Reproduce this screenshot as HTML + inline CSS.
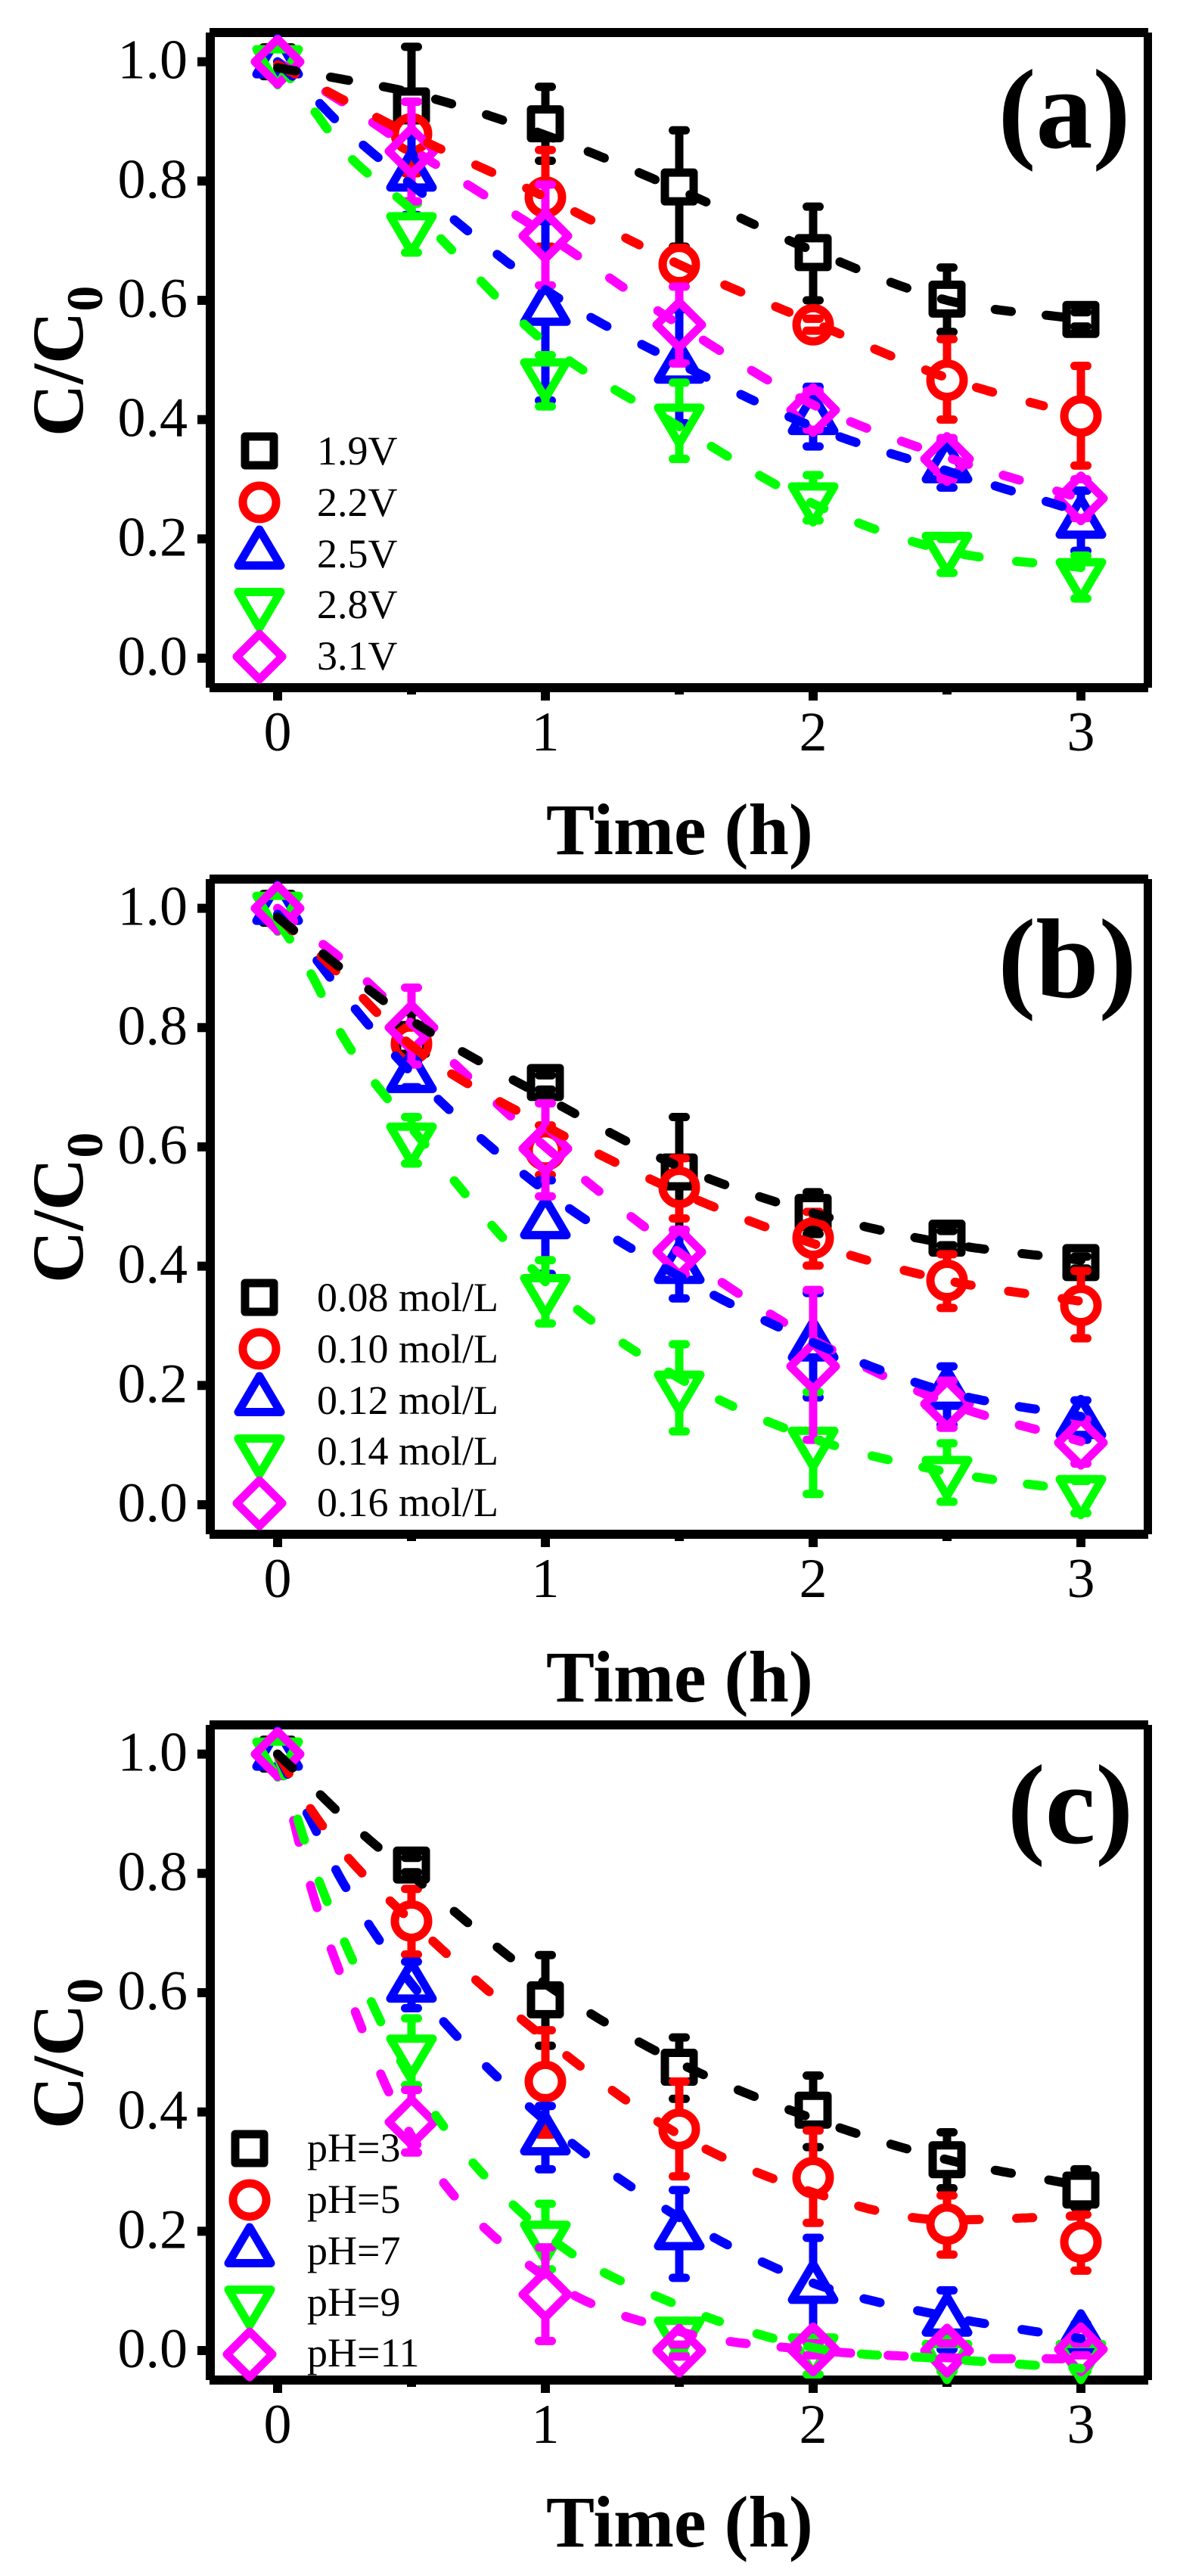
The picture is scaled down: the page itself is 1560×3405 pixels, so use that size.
<!DOCTYPE html>
<html lang="en">
<head>
<meta charset="utf-8">
<title>C/C0 versus time</title>
<style>
html,body{margin:0;padding:0;background:#fff;}
svg{display:block;}
text{font-family:"Liberation Serif",serif;fill:#000;}
.title{font-weight:bold;font-size:96px;}
.panel-tag{font-weight:bold;font-size:150px;text-anchor:middle;}
.tick{font-size:74px;}
.leg{font-size:54px;}
</style>
</head>
<body>
<svg id="figure" xmlns="http://www.w3.org/2000/svg" width="1560" height="3405" viewBox="0 0 1560 3405">
  <rect x="0" y="0" width="1560" height="3405" fill="#fff"/>

  <g id="panel-a">
    <text class="title" x="722" y="1129">Time (h)</text>
    <text class="title" transform="translate(109,577) rotate(-90)">C/C<tspan font-size="68" dy="26">0</tspan></text>
    <text class="panel-tag" x="1407" y="195">(a)</text>
    <text class="leg" x="419" y="614">1.9V</text>
    <text class="leg" x="419" y="682">2.2V</text>
    <text class="leg" x="419" y="750">2.5V</text>
    <text class="leg" x="419" y="817">2.8V</text>
    <text class="leg" x="419" y="885">3.1V</text>
  </g>

  <g id="panel-b">
    <text class="title" x="722" y="2249">Time (h)</text>
    <text class="title" transform="translate(109,1696) rotate(-90)">C/C<tspan font-size="68" dy="26">0</tspan></text>
    <text class="panel-tag" x="1411" y="1318">(b)</text>
    <text class="leg" x="419" y="1733">0.08 mol/L</text>
    <text class="leg" x="419" y="1801">0.10 mol/L</text>
    <text class="leg" x="419" y="1869">0.12 mol/L</text>
    <text class="leg" x="419" y="1936">0.14 mol/L</text>
    <text class="leg" x="419" y="2004">0.16 mol/L</text>
  </g>

  <g id="panel-c">
    <text class="title" x="722" y="3366">Time (h)</text>
    <text class="title" transform="translate(109,2814) rotate(-90)">C/C<tspan font-size="68" dy="26">0</tspan></text>
    <text class="panel-tag" x="1415" y="2436">(c)</text>
    <text class="leg" x="406" y="2857">pH=3</text>
    <text class="leg" x="406" y="2925">pH=5</text>
    <text class="leg" x="406" y="2993">pH=7</text>
    <text class="leg" x="406" y="3061">pH=9</text>
    <text class="leg" x="406" y="3128">pH=11</text>
  </g>
</svg>

<script>
/* Shared axes */
const timeValues = [0, 0.5, 1, 1.5, 2, 2.5, 3];
const fitTimes = [0, 0.125, 0.25, 0.5, 1, 1.5, 2, 2.5, 3];
const xTickLabels = ['0', '1', '2', '3'];
const xMajorTicks = [0, 1, 2, 3];
const xMinorTicks = [0.5, 1.5, 2.5];
const yTickLabels = ['0.0', '0.2', '0.4', '0.6', '0.8', '1.0'];
const yTicks = [0, 0.2, 0.4, 0.6, 0.8, 1.0];

/* Panel (a) */
const a19Values = [1, 0.926, 0.896, 0.79, 0.68, 0.602, 0.568];
const a19Upper = [1, 1.025, 0.958, 0.885, 0.757, 0.655, 0.58];
const a19Lower = [1, 0.82, 0.834, 0.69, 0.60, 0.547, 0.556];
const a19Fit = [0.99, 0.98, 0.97, 0.948, 0.877, 0.785, 0.683, 0.60, 0.568];
const a22Values = [1, 0.879, 0.773, 0.66, 0.559, 0.466, 0.406];
const a22Upper = [1, 0.933, 0.852, 0.688, 0.569, 0.535, 0.49];
const a22Lower = [1, 0.813, 0.69, 0.632, 0.549, 0.40, 0.323];
const a22Fit = [0.995, 0.965, 0.935, 0.877, 0.773, 0.66, 0.563, 0.47, 0.406];
const a25Values = [1, 0.81, 0.585, 0.488, 0.402, 0.321, 0.228];
const a25Upper = [1, 0.877, 0.733, 0.585, 0.455, 0.365, 0.281];
const a25Lower = [1, 0.743, 0.432, 0.394, 0.355, 0.286, 0.18];
const a25Fit = [1, 0.945, 0.888, 0.794, 0.618, 0.494, 0.388, 0.314, 0.245];
const a28Values = [1, 0.72, 0.475, 0.399, 0.267, 0.184, 0.14];
const a28Upper = [1, 0.762, 0.508, 0.462, 0.307, 0.20, 0.172];
const a28Lower = [1, 0.68, 0.422, 0.334, 0.231, 0.143, 0.10];
const a28Fit = [1, 0.925, 0.85, 0.752, 0.529, 0.388, 0.259, 0.18, 0.152];
const a31Values = [1, 0.85, 0.708, 0.559, 0.416, 0.334, 0.268];
const a31Upper = [1, 0.933, 0.794, 0.623, 0.448, 0.369, 0.30];
const a31Lower = [1, 0.766, 0.625, 0.494, 0.383, 0.30, 0.235];
const a31Fit = [1, 0.965, 0.93, 0.854, 0.711, 0.559, 0.425, 0.337, 0.268];

/* Panel (b) */
const b08Values = [1, 0.78, 0.708, 0.558, 0.49, 0.447, 0.406];
const b08Upper = [1, 0.826, 0.72, 0.65, 0.524, 0.459, 0.416];
const b08Lower = [1, 0.747, 0.696, 0.452, 0.454, 0.435, 0.396];
const b08Fit = [0.985, 0.94, 0.895, 0.812, 0.683, 0.567, 0.489, 0.438, 0.41];
const b10Values = [1, 0.773, 0.595, 0.532, 0.447, 0.376, 0.334];
const b10Upper = [1, 0.80, 0.636, 0.581, 0.491, 0.42, 0.392];
const b10Lower = [1, 0.743, 0.553, 0.48, 0.401, 0.33, 0.279];
const b10Fit = [0.985, 0.935, 0.881, 0.77, 0.635, 0.524, 0.438, 0.376, 0.341];
const b12Values = [1, 0.718, 0.473, 0.398, 0.268, 0.187, 0.138];
const b12Upper = [1, 0.743, 0.544, 0.452, 0.355, 0.232, 0.175];
const b12Lower = [1, 0.70, 0.387, 0.346, 0.18, 0.134, 0.109];
const b12Fit = [0.99, 0.925, 0.853, 0.724, 0.526, 0.383, 0.272, 0.189, 0.148];
const b14Values = [1, 0.613, 0.359, 0.197, 0.103, 0.054, 0.022];
const b14Upper = [1, 0.65, 0.41, 0.269, 0.189, 0.103, 0.04];
const b14Lower = [1, 0.572, 0.304, 0.123, 0.018, 0.005, -0.014];
const b14Fit = [0.98, 0.89, 0.78, 0.632, 0.374, 0.212, 0.111, 0.055, 0.023];
const b16Values = [1, 0.80, 0.597, 0.424, 0.232, 0.169, 0.104];
const b16Upper = [1, 0.867, 0.673, 0.461, 0.36, 0.208, 0.143];
const b16Lower = [1, 0.738, 0.517, 0.387, 0.109, 0.129, 0.069];
const b16Fit = [1, 0.955, 0.911, 0.807, 0.60, 0.423, 0.277, 0.171, 0.106];

/* Panel (c) */
const c3Values = [1, 0.814, 0.588, 0.475, 0.403, 0.32, 0.269];
const c3Upper = [1, 0.826, 0.663, 0.525, 0.461, 0.366, 0.304];
const c3Lower = [1, 0.802, 0.511, 0.422, 0.341, 0.272, 0.24];
const c3Fit = [1, 0.947, 0.893, 0.797, 0.615, 0.482, 0.389, 0.32, 0.276];
const c5Values = [1, 0.72, 0.451, 0.371, 0.29, 0.212, 0.182];
const c5Upper = [1, 0.774, 0.537, 0.451, 0.369, 0.26, 0.228];
const c5Lower = [1, 0.664, 0.362, 0.292, 0.214, 0.161, 0.134];
const c5Fit = [1, 0.907, 0.833, 0.72, 0.523, 0.362, 0.265, 0.219, 0.226];
const c7Values = [1, 0.611, 0.355, 0.196, 0.106, 0.051, 0.023];
const c7Upper = [1, 0.652, 0.41, 0.269, 0.189, 0.101, 0.045];
const c7Lower = [1, 0.574, 0.304, 0.122, 0.02, 0.002, 0];
const c7Fit = [1, 0.888, 0.78, 0.615, 0.385, 0.223, 0.113, 0.057, 0.02];
const c9Values = [1, 0.502, 0.19, 0.029, 0.001, -0.01, -0.01];
const c9Upper = [1, 0.557, 0.246, 0.05, 0.015, 0.02, 0.015];
const c9Lower = [1, 0.445, 0.136, -0.007, -0.04, -0.035, -0.035];
const c9Fit = [1, 0.823, 0.685, 0.455, 0.196, 0.075, 0.005, -0.014, -0.03];
const c11Values = [1, 0.383, 0.094, 0, 0.002, 0, 0.002];
const c11Upper = [1, 0.437, 0.173, 0.01, 0.012, 0.012, 0.012];
const c11Lower = [1, 0.332, 0.016, -0.01, -0.008, -0.012, -0.008];
const c11Fit = [1, 0.776, 0.614, 0.36, 0.123, 0.032, 0.001, -0.012, -0.014];

const seriesStyles = [
  {shape: 'square', color: '#000000'},
  {shape: 'circle', color: '#ff0000'},
  {shape: 'triUp', color: '#0000ff'},
  {shape: 'triDown', color: '#00ff00'},
  {shape: 'diamond', color: '#ff00ff'}
];

const panels = [
  {id: 'a', offset: 0, legendX: 343, legendShift: 0, series: [
    {key: '1-9v', values: a19Values, upper: a19Upper, lower: a19Lower, fit: a19Fit},
    {key: '2-2v', values: a22Values, upper: a22Upper, lower: a22Lower, fit: a22Fit},
    {key: '2-5v', values: a25Values, upper: a25Upper, lower: a25Lower, fit: a25Fit},
    {key: '2-8v', values: a28Values, upper: a28Upper, lower: a28Lower, fit: a28Fit},
    {key: '3-1v', values: a31Values, upper: a31Upper, lower: a31Lower, fit: a31Fit}
  ]},
  {id: 'b', offset: 1119, legendX: 343, legendShift: 0, series: [
    {key: '0-08', values: b08Values, upper: b08Upper, lower: b08Lower, fit: b08Fit},
    {key: '0-10', values: b10Values, upper: b10Upper, lower: b10Lower, fit: b10Fit},
    {key: '0-12', values: b12Values, upper: b12Upper, lower: b12Lower, fit: b12Fit},
    {key: '0-14', values: b14Values, upper: b14Upper, lower: b14Lower, fit: b14Fit},
    {key: '0-16', values: b16Values, upper: b16Upper, lower: b16Lower, fit: b16Fit}
  ]},
  {id: 'c', offset: 2237, legendX: 330, legendShift: 7, series: [
    {key: 'ph-3', values: c3Values, upper: c3Upper, lower: c3Lower, fit: c3Fit},
    {key: 'ph-5', values: c5Values, upper: c5Upper, lower: c5Lower, fit: c5Fit},
    {key: 'ph-7', values: c7Values, upper: c7Upper, lower: c7Lower, fit: c7Fit},
    {key: 'ph-9', values: c9Values, upper: c9Upper, lower: c9Lower, fit: c9Fit},
    {key: 'ph-11', values: c11Values, upper: c11Upper, lower: c11Lower, fit: c11Fit}
  ]}
];

const SVGNS = 'http://www.w3.org/2000/svg';
const STROKE = 11;
const DASH_STROKE = 12;
const DASH_ON = 25;
const DASH_PERIOD = 70;
const DASH_Y_SCALE = 1.3;

function make(parent, tag, attrs) {
  const el = document.createElementNS(SVGNS, tag);
  for (const k in attrs) el.setAttribute(k, attrs[k]);
  parent.appendChild(el);
  return el;
}
function xOf(t) { return 367 + 354 * t; }
function yOf(v, offset) { return 870 + offset - 788.4 * v; }

const markerGaps = {
  square: [19, 19], circle: [22, 22], triUp: [31, 16.5], triDown: [16.5, 31], diamond: [30, 30]
};

function drawMarker(parent, shape, color, cx, cy) {
  const style = {fill: 'none', stroke: color, 'stroke-width': STROKE, 'stroke-linejoin': 'round'};
  let el;
  if (shape === 'square') {
    el = make(parent, 'rect', Object.assign({x: cx - 19, y: cy - 19, width: 38, height: 38}, style));
  } else if (shape === 'circle') {
    el = make(parent, 'circle', Object.assign({cx: cx, cy: cy, r: 22}, style));
  } else {
    let pts;
    if (shape === 'triUp') pts = [[cx, cy - 31], [cx + 28, cy + 16.5], [cx - 28, cy + 16.5]];
    else if (shape === 'triDown') pts = [[cx, cy + 31], [cx + 28, cy - 16.5], [cx - 28, cy - 16.5]];
    else pts = [[cx, cy - 30], [cx + 30, cy], [cx, cy + 30], [cx - 30, cy]];
    el = make(parent, 'polygon', Object.assign({points: pts.map(p => p.join(',')).join(' ')}, style));
  }
  return el;
}

function sampleFit(times, vals, offset) {
  const n = times.length;
  const d = [];
  for (let i = 0; i < n - 1; i++) d.push((vals[i + 1] - vals[i]) / (times[i + 1] - times[i]));
  const m = [];
  for (let i = 0; i < n; i++) {
    if (i === 0) m.push(d[0]);
    else if (i === n - 1) m.push(d[n - 2]);
    else m.push(d[i - 1] * d[i] <= 0 ? 0 : (d[i - 1] + d[i]) / 2);
  }
  const pts = [];
  for (let i = 0; i < n - 1; i++) {
    const h = times[i + 1] - times[i];
    for (let s = 0; s < 50; s++) {
      const u = s / 50, u2 = u * u, u3 = u2 * u;
      const v = (2 * u3 - 3 * u2 + 1) * vals[i] + (u3 - 2 * u2 + u) * h * m[i] +
                (-2 * u3 + 3 * u2) * vals[i + 1] + (u3 - u2) * h * m[i + 1];
      pts.push([xOf(times[i] + u * h), yOf(v, offset)]);
    }
  }
  pts.push([xOf(times[n - 1]), yOf(vals[n - 1], offset)]);
  return pts;
}

function dashRuns(pts) {
  const runs = [];
  let cur = [pts[0]], dist = 0;
  for (let i = 1; i < pts.length; i++) {
    const dx = pts[i][0] - pts[i - 1][0];
    const dy = (pts[i][1] - pts[i - 1][1]) / DASH_Y_SCALE;
    dist += Math.sqrt(dx * dx + dy * dy);
    const on = (dist % DASH_PERIOD) < DASH_ON;
    if (on) {
      if (!cur) cur = [];
      cur.push(pts[i]);
    } else if (cur) {
      if (cur.length > 1) runs.push(cur);
      cur = null;
    }
  }
  if (cur && cur.length > 1) runs.push(cur);
  return runs;
}

function drawFrame(g, off) {
  const bars = [
    ['frame-top', 277, 37 + off, 1241, 12],
    ['frame-left', 272, 43 + off, 12, 866],
    ['frame-right', 1512, 43 + off, 11, 866],
    ['frame-bottom', 277, 903 + off, 1241, 12]
  ];
  bars.forEach(function (b) {
    const r = make(g, 'rect', {x: b[1], y: b[2], width: b[3], height: b[4], fill: '#000'});
    
    
  });
}

function drawAxes(g, off) {
  xMajorTicks.forEach(function (t, i) {
    const r = make(g, 'rect', {x: xOf(t) - 6, y: 915 + off, width: 12, height: 11, fill: '#000'});
    
    
    const l = make(g, 'text', {x: xOf(t), y: 992 + off, 'text-anchor': 'middle', class: 'tick'});
    l.textContent = xTickLabels[i];
    
    
  });
  xMinorTicks.forEach(function (t) {
    const r = make(g, 'rect', {x: xOf(t) - 6, y: 915 + off, width: 12, height: 3, fill: '#000'});
    
    
  });
  yTicks.forEach(function (v, i) {
    const y = yOf(v, off);
    const r = make(g, 'rect', {x: 261, y: y - 6, width: 11, height: 12, fill: '#000'});
    
    
    const l = make(g, 'text', {x: 248, y: y + 22, 'text-anchor': 'end', class: 'tick'});
    l.textContent = yTickLabels[i];
    
    
  });
}

function drawErrorBars(g, s, style, off) {
  const gaps = markerGaps[style.shape];
  const lineStyle = {stroke: style.color, 'stroke-width': STROKE, 'stroke-linecap': 'round'};
  timeValues.forEach(function (t, i) {
    const x = xOf(t), y = yOf(s.values[i], off);
    const yUp = yOf(s.upper[i], off), yLo = yOf(s.lower[i], off);
    if (s.upper[i] !== s.values[i]) {
      if (yUp < y - gaps[0]) {
        const st = make(g, 'line', {x1: x, x2: x, y1: yUp, y2: y - gaps[0], stroke: style.color, 'stroke-width': STROKE});
        
        
      }
      const c = make(g, 'line', Object.assign({x1: x - 8.5, x2: x + 8.5, y1: yUp, y2: yUp}, lineStyle));
      
      
    }
    if (s.lower[i] !== s.values[i]) {
      if (yLo > y + gaps[1]) {
        const st = make(g, 'line', {x1: x, x2: x, y1: y + gaps[1], y2: yLo, stroke: style.color, 'stroke-width': STROKE});
        
        
      }
      const c = make(g, 'line', Object.assign({x1: x - 8.5, x2: x + 8.5, y1: yLo, y2: yLo}, lineStyle));
      
      
    }
  });
}

function drawPanel(p) {
  const root = document.getElementById('panel-' + p.id);
  const off = p.offset;
  const axes = make(root, 'g', {});
  
  
  drawAxes(axes, off);
  drawFrame(axes, off);

  const legendYs = [596, 664, 731, 799, 868];
  p.series.forEach(function (s, i) {
    const st = seriesStyles[i];
    const m = drawMarker(root, st.shape, st.color, p.legendX, legendYs[i] + off + p.legendShift);
    
    
  });

  p.series.forEach(function (s, i) {
    const st = seriesStyles[i];
    const g = make(root, 'g', {});
    
    
    drawErrorBars(g, s, st, off);
    timeValues.forEach(function (t, j) {
      const m = drawMarker(g, st.shape, st.color, xOf(t), yOf(s.values[j], off));
      
      
    });
  });

  [4, 3, 2, 1, 0].forEach(function (i) {
    const s = p.series[i];
    const st = seriesStyles[i];
    const g = make(root, 'g', {});
    
    
    dashRuns(sampleFit(fitTimes, s.fit, off)).forEach(function (run) {
      const d = make(g, 'polyline', {
        points: run.map(q => q[0].toFixed(1) + ',' + q[1].toFixed(1)).join(' '),
        fill: 'none', stroke: st.color, 'stroke-width': DASH_STROKE,
        'stroke-linecap': 'round', 'stroke-linejoin': 'round'
      });
      
      
    });
  });
}

panels.forEach(drawPanel);
</script>
</body>
</html>
